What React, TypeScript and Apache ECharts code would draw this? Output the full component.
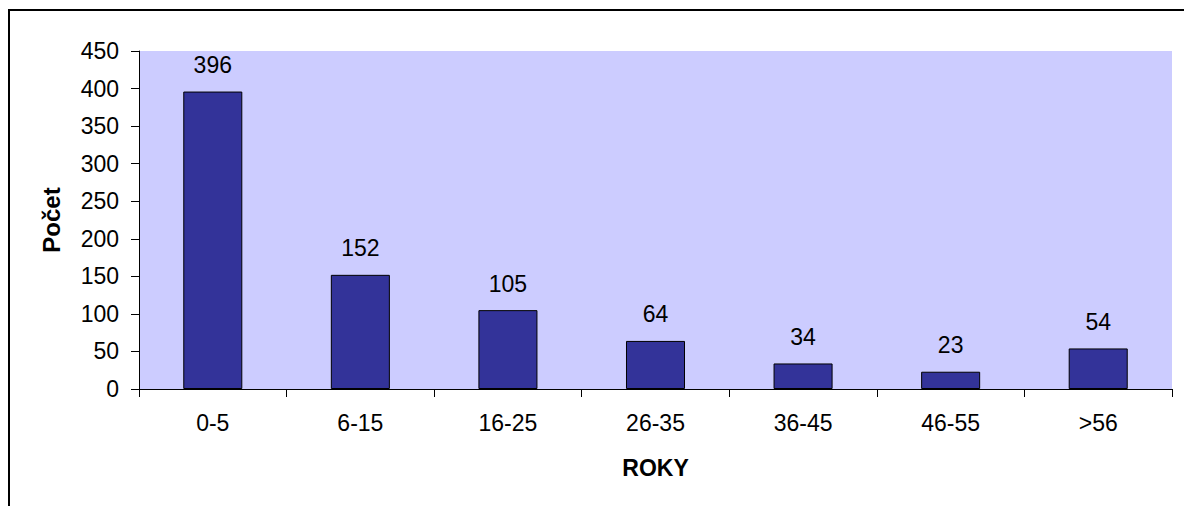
import React, { useEffect, useRef } from "react";
import * as echarts from "echarts";

const categories = ["0-5", "6-15", "16-25", "26-35", "36-45", "46-55", ">56"];
const counts = [396, 152, 105, 64, 34, 23, 54];
const yTicks = { min: 0, max: 450, interval: 50 };

const FONT = "Arial, 'Liberation Sans', sans-serif";

export default function App() {
  const ref = useRef<HTMLDivElement>(null);

  useEffect(() => {
    if (!ref.current) return;
    const chart = echarts.init(ref.current, null, { renderer: "svg" });
    chart.setOption({
      animation: false,
      backgroundColor: "#ffffff",
      textStyle: { fontFamily: FONT, color: "#000" },
      graphic: [
        {
          type: "rect",
          shape: { x: 9, y: 10, width: 1300, height: 700 },
          style: { fill: "none", stroke: "#000", lineWidth: 2 },
          silent: true,
        },
      ],
      grid: {
        left: 139,
        right: 12,
        top: 51,
        bottom: 117,
        show: true,
        backgroundColor: "#CCCCFF",
        borderWidth: 0,
      },
      xAxis: {
        type: "category",
        data: categories,
        boundaryGap: true,
        name: "ROKY",
        nameLocation: "middle",
        nameGap: 67,
        nameTextStyle: { fontSize: 23, fontWeight: "bold", color: "#000", fontFamily: FONT },
        axisLine: { show: true, lineStyle: { color: "#000", width: 1 } },
        axisTick: { show: true, alignWithLabel: false, length: 8, lineStyle: { color: "#000" } },
        axisLabel: { fontSize: 23, color: "#000", margin: 22, fontFamily: FONT },
        splitLine: { show: false },
      },
      yAxis: {
        type: "value",
        min: yTicks.min,
        max: yTicks.max,
        interval: yTicks.interval,
        name: "Počet",
        nameLocation: "middle",
        nameRotate: 90,
        nameGap: 76,
        nameTextStyle: { fontSize: 24, fontWeight: "bold", color: "#000", fontFamily: FONT },
        axisLine: { show: true, lineStyle: { color: "#000", width: 1 } },
        axisTick: { show: true, length: 8, lineStyle: { color: "#000" } },
        axisLabel: { fontSize: 23, color: "#000", margin: 20, fontFamily: FONT },
        splitLine: { show: false },
      },
      series: [
        {
          type: "bar",
          data: counts,
          barWidth: "40%",
          itemStyle: { color: "#333399", borderColor: "#000", borderWidth: 1 },
          label: {
            show: true,
            position: "top",
            distance: 15,
            fontSize: 23,
            color: "#000",
            fontFamily: FONT,
          },
        },
      ],
    });
    return () => chart.dispose();
  }, []);

  return (
    <div
      ref={ref}
      style={{ position: "absolute", left: 0, top: 0, width: 1184, height: 506 }}
    />
  );
}
